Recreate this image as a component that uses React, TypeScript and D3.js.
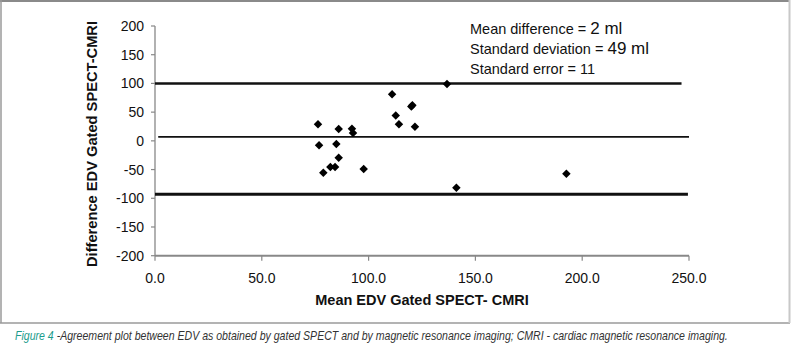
import React, { useLayoutEffect, useRef, useState } from "react";
import * as d3 from "d3";

const xTicks = [0, 50, 100, 150, 200, 250];
const yTicks = [200, 150, 100, 50, 0, -50, -100, -150, -200];

const meanValues = [76.3, 76.8, 78.8, 82.1, 84.3, 84.9, 86.0, 86.0, 92.2, 92.7, 97.7, 111.0, 112.7, 114.2, 120.0, 120.5, 121.7, 136.7, 141.1, 192.6];
const diffValues = [28.8, -7.8, -55.5, -45.6, -45.6, -5.5, 20.6, -29.4, 21.2, 13.7, -49.0, 81.1, 44.2, 29.0, 60.0, 61.9, 24.7, 99.0, -81.6, -57.2];

const refLevels = [100, 7, -93];
const refStarts = [0, 1.5, 0];
const refEnds = [246.5, 250, 249.5];
const refWidths = [2.6, 1.8, 2.8];

const statLabels = ["Mean difference = ", "Standard deviation = ", "Standard error = "];
const statValues = ["2 ml", "49 ml", "11"];

const captionLabel = "Figure 4";
const captionText = " -Agreement plot between EDV as obtained by gated SPECT and by magnetic resonance imaging; CMRI - cardiac magnetic resonance imaging.";

export default function App() {
  const W = 791, H = 346;
  const x = d3.scaleLinear().domain([0, 250]).range([155, 689]);
  const y = d3.scaleLinear().domain([-200, 200]).range([255.7, 26]);
  const diamond = d3.symbol(d3.symbolDiamond2, 46)();
  const font = "Liberation Sans, Arial, sans-serif";
  const capRef = useRef<SVGTextElement>(null);
  const [capScale, setCapScale] = useState(0.85);

  useLayoutEffect(() => {
    if (capRef.current) {
      const w = capRef.current.getComputedTextLength();
      if (w > 0) setCapScale(713 / w);
    }
  }, []);

  return (
    <svg width={W} height={H} style={{ position: "absolute", left: 0, top: 0, background: "#fff" }} fontFamily={font}>
      {/* frame */}
      <line x1={0} y1={1} x2={790} y2={1} stroke="#8a8a8a" strokeWidth={2} />
      <line x1={1} y1={0} x2={1} y2={323} stroke="#9a9a9a" strokeWidth={1.5} />
      <line x1={0} y1={323} x2={790} y2={323} stroke="#9a9a9a" strokeWidth={1.5} />
      <line x1={789.5} y1={0} x2={789.5} y2={323} stroke="#c8c8c8" strokeWidth={2} />

      {/* y axis */}
      <line x1={x(0)} y1={y(200)} x2={x(0)} y2={y(-200)} stroke="#888" strokeWidth={1.3} />
      {yTicks.map((t) => (
        <g key={"y" + t}>
          <line x1={x(0) - 4} x2={x(0)} y1={y(t)} y2={y(t)} stroke="#888" strokeWidth={1.2} />
          <text x={x(0) - 11} y={y(t)} dy="0.36em" textAnchor="end" fontSize={14} fill="#111">{t}</text>
        </g>
      ))}

      {/* x axis */}
      <line x1={x(0)} y1={y(-200)} x2={x(250)} y2={y(-200)} stroke="#888" strokeWidth={2} />
      {xTicks.map((t) => (
        <g key={"x" + t}>
          <line x1={x(t)} x2={x(t)} y1={y(-200)} y2={y(-200) + 5} stroke="#888" strokeWidth={1.2} />
          <text x={x(t)} y={y(-200) + 27} textAnchor="middle" fontSize={14} fill="#111">{t.toFixed(1)}</text>
        </g>
      ))}

      {/* reference lines */}
      {refLevels.map((v, i) => (
        <line key={"r" + i} x1={x(refStarts[i])} x2={x(refEnds[i])} y1={y(v)} y2={y(v)} stroke="#111" strokeWidth={refWidths[i]} />
      ))}

      {/* points */}
      {meanValues.map((m, i) => (
        <path key={"p" + i} d={diamond as string} transform={`translate(${x(m)},${y(diffValues[i])})`} fill="#000" />
      ))}

      {/* stats */}
      {statLabels.map((s, i) => (
        <text key={"s" + i} x={470} y={34 + i * 20} fontSize={14.5} fill="#111">
          {s}
          <tspan fontSize={i < 2 ? 17 : 14.5}>{statValues[i]}</tspan>
        </text>
      ))}

      {/* axis titles */}
      <text x={x(125)} y={305} textAnchor="middle" fontSize={14.5} fontWeight="bold" fill="#111">Mean EDV Gated SPECT- CMRI</text>
      <text transform={`translate(97,${144}) rotate(-90)`} textAnchor="middle" fontSize={14.5} fontWeight="bold" fill="#111" textLength={246} lengthAdjust="spacingAndGlyphs">Difference EDV Gated SPECT-CMRI</text>

      {/* caption */}
      <g transform={`translate(15,339.5) scale(${capScale},1)`}>
        <text ref={capRef} x={0} y={0} fontSize={12.5} fontStyle="italic" fill="#333">
          <tspan fill="#1a9c8c">{captionLabel}</tspan>{captionText}
        </text>
      </g>
    </svg>
  );
}
